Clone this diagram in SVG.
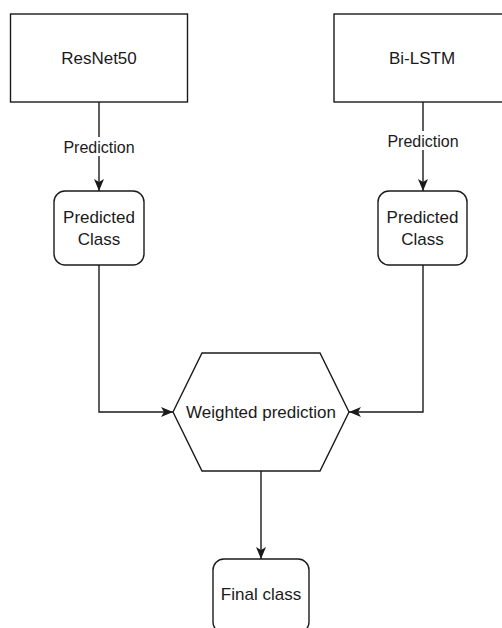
<svg xmlns="http://www.w3.org/2000/svg" width="502" height="628" viewBox="0 0 502 628">
  <defs>
    <marker id="arrow" viewBox="0 0 12 10" refX="12" refY="5" markerWidth="12" markerHeight="10" markerUnits="userSpaceOnUse" orient="auto">
      <path d="M0,0 L12,5 L0,10 L3,5 Z" fill="#1a1a1a"/>
    </marker>
    <style>
      .node { fill: #ffffff; stroke: #1a1a1a; stroke-width: 1.4; }
      .edge { fill: none; stroke: #1a1a1a; stroke-width: 1.4; marker-end: url(#arrow); }
      .t { font-family: "Liberation Sans", Arial, sans-serif; font-size: 17px; fill: #1a1a1a; text-anchor: middle; dominant-baseline: central; }
      .lbl { font-family: "Liberation Sans", Arial, sans-serif; font-size: 16px; fill: #1a1a1a; text-anchor: middle; dominant-baseline: central; }
      .lblbg { fill: #ffffff; stroke: none; }
    </style>
  </defs>
  <rect x="0" y="0" width="502" height="628" fill="#ffffff"/>

  <g id="edges">
    <path class="edge" d="M99,102 L99,191"/>
    <path class="edge" d="M423,102 L423,191"/>
    <path class="edge" d="M99,265 L99,412 L173,412"/>
    <path class="edge" d="M423,265 L423,412 L349,412"/>
    <path class="edge" d="M261,471 L261,559"/>
    <g id="label-left">
      <rect class="lblbg" x="62" y="137" width="74" height="19"/>
      <text class="lbl" x="99" y="147">Prediction</text>
    </g>
    <g id="label-right">
      <rect class="lblbg" x="386" y="131" width="74" height="19"/>
      <text class="lbl" x="423" y="141">Prediction</text>
    </g>
  </g>

  <g id="resnet50">
    <rect class="node" x="10.5" y="14" width="177" height="88"/>
    <text class="t" x="99" y="58">ResNet50</text>
  </g>
  <g id="bilstm">
    <rect class="node" x="334" y="14" width="178" height="88"/>
    <text class="t" x="422" y="58">Bi-LSTM</text>
  </g>
  <g id="predicted-left">
    <rect class="node" x="54" y="191" width="90" height="74" rx="11" ry="11"/>
    <text class="t" x="99" y="217">Predicted</text>
    <text class="t" x="99" y="239">Class</text>
  </g>
  <g id="predicted-right">
    <rect class="node" x="378" y="191" width="89" height="74" rx="11" ry="11"/>
    <text class="t" x="422.5" y="217">Predicted</text>
    <text class="t" x="422.5" y="239">Class</text>
  </g>
  <g id="weighted">
    <polygon class="node" points="173,412 202,353 320,353 349,412 320,471 202,471"/>
    <text class="t" x="261" y="412">Weighted prediction</text>
  </g>
  <g id="final">
    <rect class="node" x="213" y="559" width="96" height="74" rx="11" ry="11"/>
    <text class="t" x="261" y="594">Final class</text>
  </g>
</svg>
